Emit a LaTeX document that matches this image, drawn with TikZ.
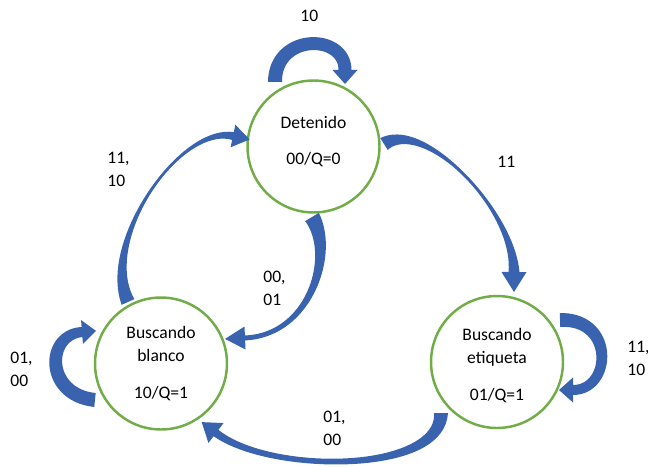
\documentclass[tikz,border=0pt]{standalone}
\usepackage{fontspec}
\setmainfont{Carlito}
\usepackage{xcolor}
\definecolor{stategreen}{RGB}{112,173,71}
\definecolor{arrowblue}{RGB}{57,99,175}

\tikzset{
  state/.style={circle, draw=stategreen, line width=1.4pt, minimum size=2.64cm, inner sep=0pt, align=center, font=\fontsize{10}{13}\selectfont},
  lbl/.style={anchor=north west, inner sep=0pt, align=left, font=\fontsize{10}{13}\selectfont},
}

\begin{document}
\begin{tikzpicture}[x=0.02cm, y=-0.02cm,
  declare function={
    px(\u)=(1-\u)*(1-\u)*(1-\u)*\ax+3*\u*(1-\u)*(1-\u)*\cax+3*\u*\u*(1-\u)*\cbx+\u*\u*\u*\bx;
    py(\u)=(1-\u)*(1-\u)*(1-\u)*\ay+3*\u*(1-\u)*(1-\u)*\cay+3*\u*\u*(1-\u)*\cby+\u*\u*\u*\by;
    tx(\u)=(3*(1-\u)*(1-\u)*(\cax-\ax)+6*\u*(1-\u)*(\cbx-\cax)+3*\u*\u*(\bx-\cbx))/100;
    ty(\u)=(3*(1-\u)*(1-\u)*(\cay-\ay)+6*\u*(1-\u)*(\cby-\cay)+3*\u*\u*(\by-\cby))/100;
    tl(\u)=veclen(tx(\u),ty(\u));
    wd(\u)=((1-\u)*(1-\u)*\wa+2*\u*(1-\u)*\wc+\u*\u*\wb)/2;
  }]
\useasboundingbox (0,0) rectangle (648,466);

\node[state, text depth=7pt] (det) at (313.5,146.5) {Detenido\\[8pt]00/Q=0};
\node[state] (blanco) at (161,363.5) {Buscando\\blanco\\[8pt]10/Q=1};
\node[state, text height=45pt] (etiq) at (497,362) {Buscando\\etiqueta\\[8pt]01/Q=1};

\foreach \ax/\ay/\cax/\cay/\cbx/\cby/\bx/\by/\wa/\wm/\wb/\hw/\hl in {
  275/82/275/33/345/33/345/70/14/13/13/25/14,
  384/144/425/118/514/210/514/272/14/3/11/25/20,
  128/302/100/240/180/125/233/136/14/3/8/23/17,
  312/217/335/255/310/335/245/338/16/7/5/23/20,
  95/400/45/395/45/335/82/332/14/13/10/24/14,
  560/320/615/318/612/390/573/390/14/11/10/25/14,
  441/413/441/474/270/474/216/433/14/6/8/25/18} {
  \pgfmathsetmacro\wc{2*\wm-0.5*(\wa+\wb)}
  \pgfmathsetmacro\dl{veclen((\bx-\cbx)/100,(\by-\cby)/100)}
  \pgfmathsetmacro\ux{(\bx-\cbx)/100/\dl}
  \pgfmathsetmacro\uy{(\by-\cby)/100/\dl}
  \fill[arrowblue]
    plot[variable=\u, domain=0:1, samples=40] ({px(\u)-ty(\u)/tl(\u)*wd(\u)}, {py(\u)+tx(\u)/tl(\u)*wd(\u)})
    -- ({\bx-\uy*\hw/2}, {\by+\ux*\hw/2})
    -- ({\bx+\ux*\hl}, {\by+\uy*\hl})
    -- ({\bx+\uy*\hw/2}, {\by-\ux*\hw/2})
    -- plot[variable=\u, domain=0:1, samples=40] ({px(1-\u)+ty(1-\u)/tl(1-\u)*wd(1-\u)}, {py(1-\u)-tx(1-\u)/tl(1-\u)*wd(1-\u)})
    -- cycle;
}

\node[lbl] (l-self-det) at (300,9.5) {10};
\node[lbl] (l-det-etiq) at (497,156) {11};
\node[lbl] (l-blanco-det) at (107,152) {11,\\10};
\node[lbl] (l-det-blanco) at (263,271) {00,\\01};
\node[lbl] (l-self-blanco) at (10,352) {01,\\00};
\node[lbl] (l-self-etiq) at (627,341) {11,\\10};
\node[lbl] (l-etiq-blanco) at (323,411) {01,\\00};
\end{tikzpicture}
\end{document}
